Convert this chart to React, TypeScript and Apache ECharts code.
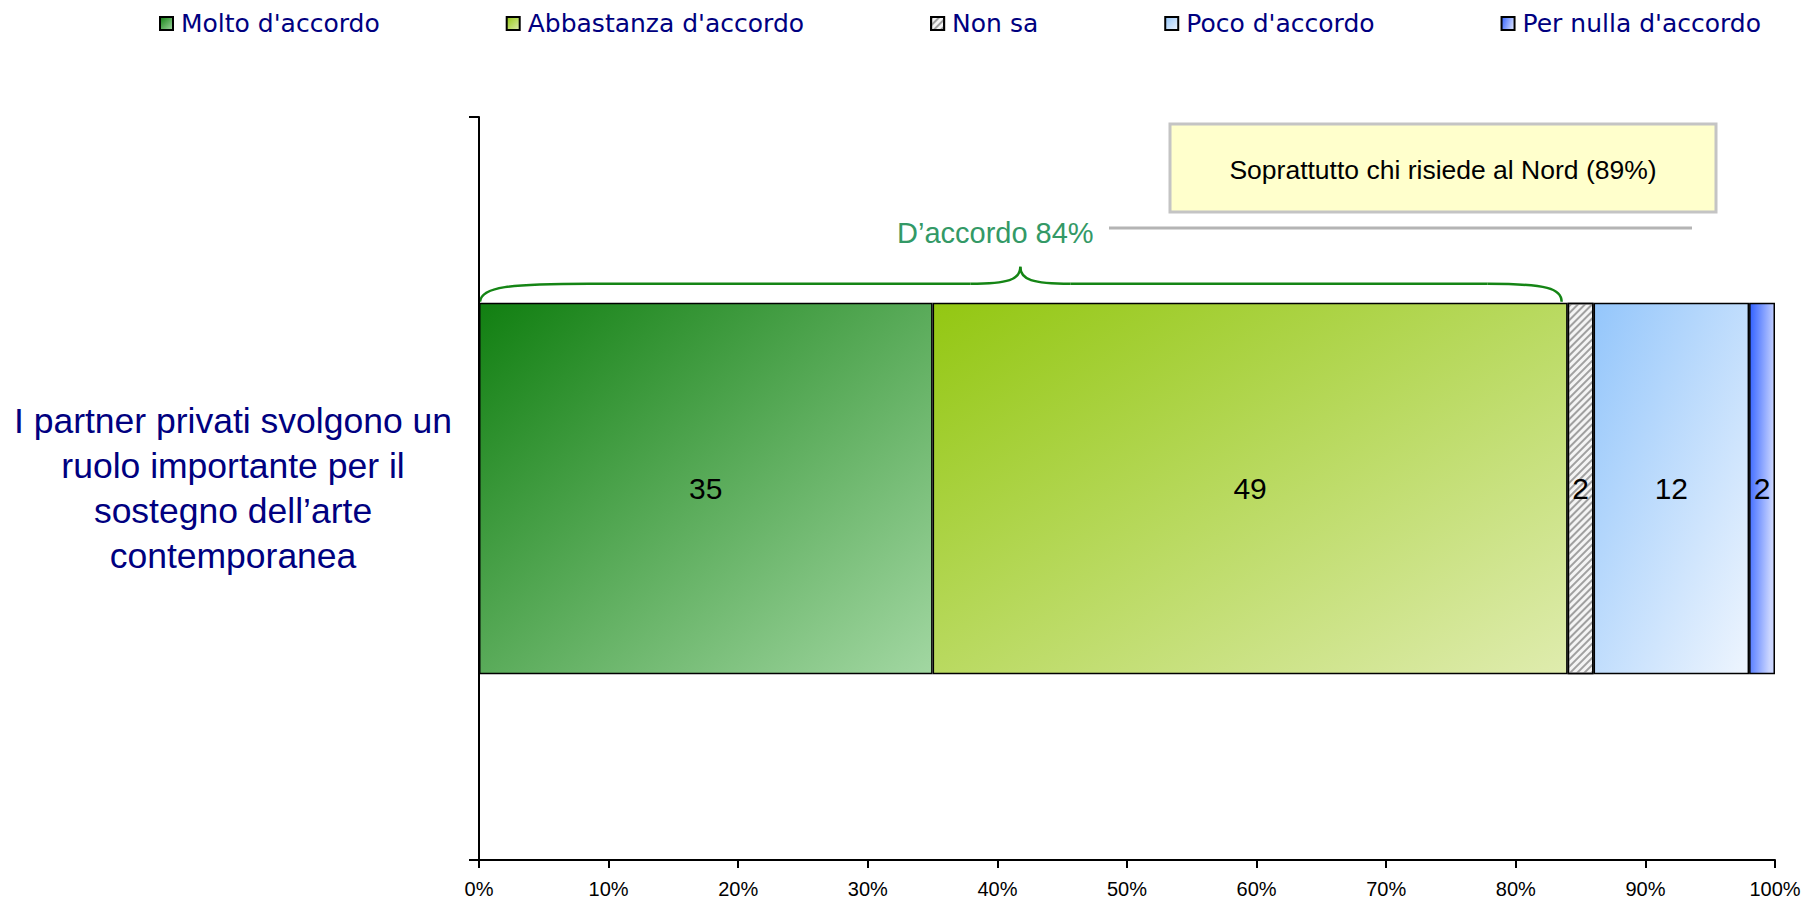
import React, { useEffect, useRef } from 'react';
import * as echarts from 'echarts';

const categories = ['I partner privati svolgono un\nruolo importante per il\nsostegno dell’arte\ncontemporanea'];
const seriesNames = ["Molto d'accordo", "Abbastanza d'accordo", 'Non sa', "Poco d'accordo", "Per nulla d'accordo"];
const molto = [35];
const abbastanza = [49];
const nonSa = [2];
const poco = [12];
const perNulla = [2];
const accordoTotal = 84;
const accordoLabel = 'D’accordo 84%';
const calloutText = 'Soprattutto chi risiede al Nord (89%)';

const GRID = { left: 479, right: 30, top: 117, bottom: 40 };
const ARIAL = '"Liberation Sans", Arial, sans-serif';

function grad(c1: string, c2: string, x2 = 1, y2 = 1) {
  return new echarts.graphic.LinearGradient(0, 0, x2, y2, [
    { offset: 0, color: c1 },
    { offset: 1, color: c2 },
  ]);
}

export default function App() {
  const ref = useRef<HTMLDivElement>(null);
  useEffect(() => {
    if (!ref.current) return;
    const chart = echarts.init(ref.current, null, { renderer: 'svg' });
    const common = {
      type: 'bar',
      stack: 'total',
      barWidth: '50%',
      label: {
        show: true,
        position: 'inside',
        color: '#000',
        fontSize: 30,
        fontFamily: ARIAL,
      },
      emphasis: { disabled: true },
    };
    const styles: any[] = [
      { color: grad('#117F11', '#A2D7A2') },
      { color: grad('#93C712', '#DFECAE') },
      {
        color: '#F4F4F4',
        decal: {
          symbol: 'rect',
          symbolSize: 1,
          color: '#A0A0A0',
          dashArrayX: [1, 0],
          dashArrayY: [2, 3],
          rotation: -Math.PI / 4,
        },
      },
      { color: grad('#94C6FB', '#EEF5FE') },
      { color: grad('#3060FF', '#CBD6FF', 1, 0.3) },
    ];
    const dataArr = [molto, abbastanza, nonSa, poco, perNulla];
    const series = seriesNames.map((name, i) => ({
      ...common,
      name,
      data: dataArr[i],
      itemStyle: { ...styles[i], borderColor: '#000', borderWidth: 1.5 },
    }));
    chart.setOption({
      animation: false,
      backgroundColor: '#fff',
      legend: {
        top: 6,
        left: 154,
        icon: 'rect',
        itemWidth: 13,
        itemHeight: 13,
        itemGap: 126,
        textStyle: {
          color: '#000080',
          fontSize: 25,
          fontFamily: '"DejaVu Sans", Verdana, sans-serif',
          padding: [0, 0, 0, 3],
        },
        data: seriesNames,
      },
      grid: GRID,
      xAxis: {
        type: 'value',
        min: 0,
        max: 100,
        interval: 10,
        splitLine: { show: false },
        axisLine: { show: true, lineStyle: { color: '#000', width: 2 } },
        axisTick: { show: true, length: 8, lineStyle: { color: '#000', width: 2 } },
        axisLabel: {
          formatter: '{value}%',
          color: '#000',
          fontSize: 20,
          fontFamily: ARIAL,
          margin: 19,
        },
      },
      yAxis: {
        type: 'category',
        data: categories,
        axisLine: { show: true, lineStyle: { color: '#000', width: 2 } },
        axisTick: { show: true, length: 10, lineStyle: { color: '#000', width: 2 } },
        axisLabel: {
          align: 'center',
          margin: 246,
          color: '#000080',
          fontSize: 35.5,
          lineHeight: 45,
          fontFamily: ARIAL,
        },
      },
      series,
    });

    const xL = chart.convertToPixel({ xAxisIndex: 0 }, 0) as number;
    const xR = chart.convertToPixel({ xAxisIndex: 0 }, accordoTotal) as number;
    const yC = chart.convertToPixel({ yAxisIndex: 0 }, 0) as number;
    const plotH = 900 - GRID.top - GRID.bottom;
    const yTop = yC - plotH * 0.25;
    const yH = yTop - 19;
    const yP = yTop - 36;
    const xM = (xL + xR) / 2 - 3;
    const green = '#158515';
    const bs = { stroke: green, lineWidth: 2.5, fill: 'none' };
    chart.setOption({
      graphic: [
        { type: 'bezierCurve', shape: { x1: xL + 1, y1: yTop - 1, cpx1: xL + 2, cpy1: yH + 3, cpx2: xL + 30, cpy2: yH, x2: xL + 110, y2: yH }, style: bs, silent: true },
        { type: 'line', shape: { x1: xL + 110, y1: yH, x2: xM - 50, y2: yH }, style: bs, silent: true },
        { type: 'bezierCurve', shape: { x1: xM - 50, y1: yH, cpx1: xM - 12, cpy1: yH, cpx2: xM, cpy2: yH - 4, x2: xM, y2: yP }, style: bs, silent: true },
        { type: 'bezierCurve', shape: { x1: xM, y1: yP, cpx1: xM, cpy1: yH - 4, cpx2: xM + 12, cpy2: yH, x2: xM + 50, y2: yH }, style: bs, silent: true },
        { type: 'line', shape: { x1: xM + 50, y1: yH, x2: xR - 80, y2: yH }, style: bs, silent: true },
        { type: 'bezierCurve', shape: { x1: xR - 80, y1: yH, cpx1: xR - 20, cpy1: yH, cpx2: xR - 6, cpy2: yH + 5, x2: xR - 6, y2: yTop - 1 }, style: bs, silent: true },
        {
          type: 'text',
          x: xM - 25,
          y: yP - 34,
          style: {
            text: accordoLabel,
            fill: '#339966',
            font: `29px ${ARIAL}`,
            align: 'center',
            verticalAlign: 'middle',
            textAlign: 'center',
            textVerticalAlign: 'middle',
          },
          silent: true,
        },
        { type: 'line', shape: { x1: 1109, y1: 228, x2: 1692, y2: 228 }, style: { stroke: '#B4B4B4', lineWidth: 3 }, silent: true },
        { type: 'rect', shape: { x: 1170, y: 124, width: 546, height: 88 }, style: { fill: '#FFFFCC', stroke: '#C4C4C4', lineWidth: 3 }, silent: true },
        {
          type: 'text',
          x: 1443,
          y: 170,
          style: {
            text: calloutText,
            fill: '#000',
            font: `26.5px ${ARIAL}`,
            align: 'center',
            verticalAlign: 'middle',
            textAlign: 'center',
            textVerticalAlign: 'middle',
          },
          silent: true,
        },
      ],
    });
    return () => chart.dispose();
  }, []);
  return (
    <div
      ref={ref}
      style={{ position: 'absolute', left: 0, top: 0, width: 1805, height: 900 }}
    />
  );
}
